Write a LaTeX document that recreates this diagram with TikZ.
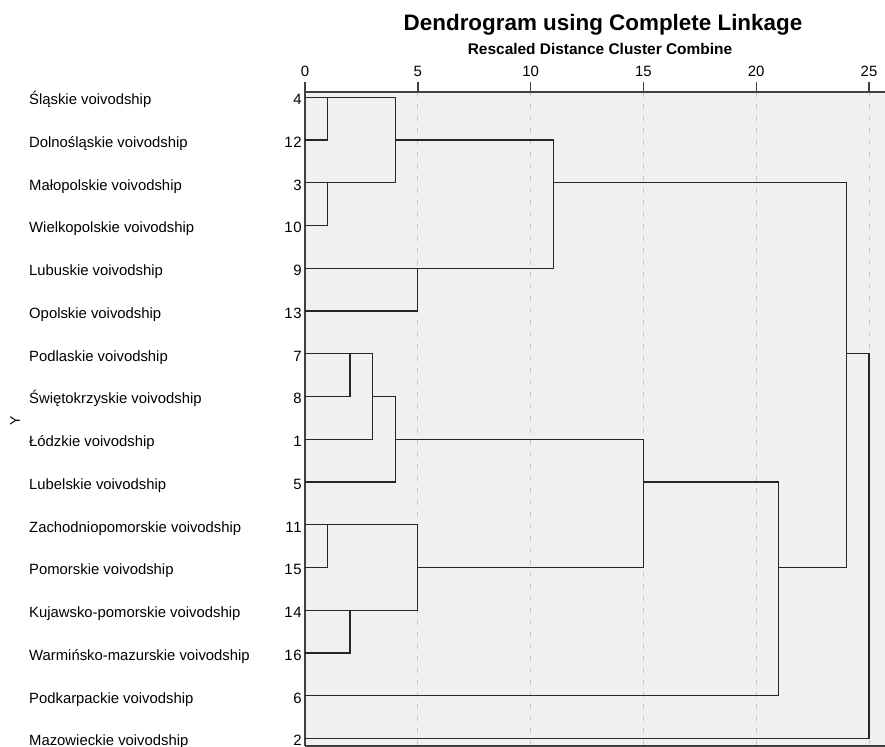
\documentclass[tikz,border=0pt]{standalone}
\usepackage{fontspec}
\setmainfont{Liberation Sans}
\usetikzlibrary{calc}
\newcommand{\linkup}[3]{\draw[link] (#1) -- (#1 -| #3) -- (#2 -| #3) -- (#2);}
\begin{document}
\begin{tikzpicture}[x=1bp,y=-1bp,
  link/.style={line width=1.3bp,color=black!85},
  grid/.style={line width=0.9bp,color=black!22,dash pattern=on 5bp off 7bp},
  frame/.style={line width=1.4bp,color=black!75},
  rowname/.style={anchor=base west,inner sep=0pt,font=\fontsize{14.9}{17}\selectfont},
  rownum/.style={anchor=base east,inner sep=0pt,font=\fontsize{15}{17}\selectfont\addfontfeatures{LetterSpace=6}},
  ticklab/.style={anchor=base,inner sep=0pt,font=\fontsize{15}{17}\selectfont}]
  \useasboundingbox (0,0) rectangle (885,747);
  \fill[color=black!6] (305,92) rectangle (885,746);
  \foreach \h in {0,...,25} \coordinate (d\h) at ({305+22.56*\h},92);
  \foreach \h in {5,10,...,25} \draw[grid] (d\h) -- ++(0,654);
  \foreach \h in {0,5,...,25} {
    \draw[frame] (d\h) -- ++(0,-10);
    \node[ticklab] (tick\h) at ($(d\h)+(0,-15)$) {\h};
  }
  \draw[frame] (305,746) -- (305,92) -- (885,92);
  \draw[frame] (305,746) -- (885,746);
  \node[anchor=base,inner sep=0pt,font=\fontsize{22.5}{26}\bfseries] (title) at (603,31) {Dendrogram using Complete Linkage};
  \node[anchor=base,inner sep=0pt,font=\fontsize{15.5}{18}\bfseries] (subtitle) at (600,55) {Rescaled Distance Cluster Combine};
  \node[rotate=90,inner sep=0pt,font=\fontsize{14}{16}\selectfont] (yaxis) at (15,421) {Y};
  \foreach \name/\num [count=\k from 0] in {Śląskie/4,Dolnośląskie/12,Małopolskie/3,Wielkopolskie/10,Lubuskie/9,Opolskie/13,Podlaskie/7,Świętokrzyskie/8,Łódzkie/1,Lubelskie/5,Zachodniopomorskie/11,Pomorskie/15,Kujawsko-pomorskie/14,Warmińsko-mazurskie/16,Podkarpackie/6,Mazowieckie/2} {
    \coordinate (l\num) at (305,{97.3+42.75*\k});
    \node[rowname] (t\num) at (29,{104.5+42.75*\k}) {\name{} voivodship};
    \node[rownum] (n\num) at (302,{104.5+42.75*\k}) {\num};
  }
  \coordinate (A) at (d1 |- l4);
  \coordinate (B) at (d1 |- l3);
  \coordinate (C) at (d4 |- l12);
  \coordinate (D) at (d5 |- l9);
  \coordinate (E) at (d11 |- l3);
  \coordinate (F) at (d2 |- l7);
  \coordinate (G) at (d3 |- l8);
  \coordinate (H) at (d4 |- l1);
  \coordinate (I) at (d1 |- l11);
  \coordinate (J) at (d2 |- l14);
  \coordinate (K) at (d5 |- l15);
  \coordinate (L) at (d15 |- l5);
  \coordinate (M) at (d21 |- l15);
  \coordinate (N) at (d24 |- l7);
  \coordinate (O) at (d25 |- l7);
  \linkup{l4}{l12}{A}
  \linkup{l3}{l10}{B}
  \linkup{A}{B}{C}
  \linkup{l9}{l13}{D}
  \linkup{C}{D}{E}
  \linkup{l7}{l8}{F}
  \linkup{F}{l1}{G}
  \linkup{G}{l5}{H}
  \linkup{l11}{l15}{I}
  \linkup{l14}{l16}{J}
  \linkup{I}{J}{K}
  \linkup{H}{K}{L}
  \linkup{L}{l6}{M}
  \linkup{E}{M}{N}
  \linkup{N}{l2}{O}
\end{tikzpicture}
\end{document}
